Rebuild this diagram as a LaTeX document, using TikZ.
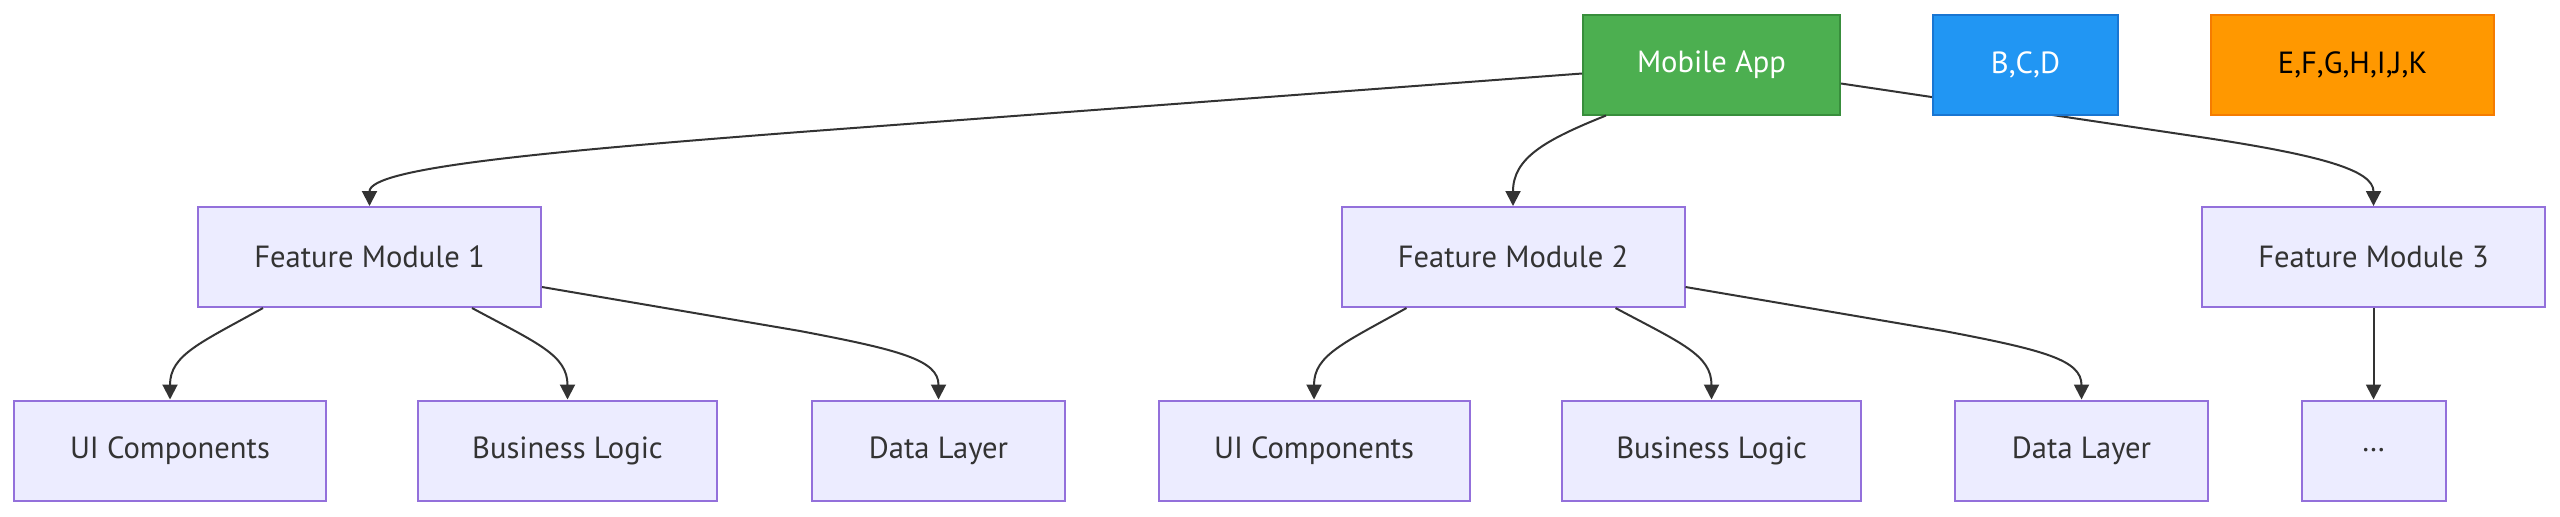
\documentclass[tikz,border=0pt]{standalone}
\usepackage{fontspec}
\setmainfont{PT Sans}
\usetikzlibrary{arrows.meta,calc}
\definecolor{lav}{HTML}{ECECFF}
\definecolor{lavline}{HTML}{9370DB}
\definecolor{txt}{HTML}{333333}
\definecolor{gfill}{HTML}{4CAF50}
\definecolor{gline}{HTML}{388E3C}
\definecolor{bfill}{HTML}{2196F3}
\definecolor{bline}{HTML}{1976D2}
\definecolor{ofill}{HTML}{FF9800}
\definecolor{oline}{HTML}{F57C00}
\tikzset{
  box/.style={draw=lavline, fill=lav, line width=1pt, text=txt, minimum height=50pt,
    inner sep=0pt, font=\fontsize{15.3pt}{18pt}\selectfont},
  greenbox/.style={box, draw=gline, fill=gfill, text=white},
  bluebox/.style={box, draw=bline, fill=bfill, text=white},
  orangebox/.style={box, draw=oline, fill=ofill, text=black},
  link/.style={draw=txt, line width=1pt, -{Triangle[length=7.5pt,width=7.5pt]}}
}
\begin{document}
\begin{tikzpicture}[x=0.5pt,y=-0.5pt]
\useasboundingbox[fill=white] (0,0) rectangle (2560,516);
% top row
\node[greenbox, minimum width=128.5pt] (ma) at (1711.5,64.5) {Mobile App};
\node[orangebox, minimum width=141.5pt] (efg) at (2352.5,64.5) {E,F,G,H,I,J,K};
% middle row
\node[box, minimum width=171.5pt] (fm1) at (369.5,257) {Feature Module 1};
\node[box, minimum width=171.5pt] (fm2) at (1513,257) {Feature Module 2};
\node[box, minimum width=171.5pt] (fm3) at (2373.5,257) {Feature Module 3};
% bottom row
\node[box, minimum width=156pt] (ui1) at (170,450.5) {UI Components};
\node[box, minimum width=149.5pt] (bl1) at (567.5,450.5) {Business Logic};
\node[box, minimum width=126.5pt] (dl1) at (938.5,450.5) {Data Layer};
\node[box, minimum width=155.5pt] (ui2) at (1314,450.5) {UI Components};
\node[box, minimum width=149.5pt] (bl2) at (1711.5,450.5) {Business Logic};
\node[box, minimum width=126.5pt] (dl2) at (2081.5,450.5) {Data Layer};
\node[box, minimum width=72pt] (dots) at (2373.5,450.5) {…};
% connectors from Mobile App
\draw[link] ($(ma.west)+(0,9)$) -- (800,132) .. controls (540,152) and (369.5,168) .. (fm1.north);
\draw[link] ($(ma.south west)+(24,0)$) .. controls (1545,140) and (1513,158) .. (fm2.north);
\draw[link] ($(ma.east)+(0,19)$) -- (2200,137) .. controls (2320,155) and (2373.5,170) .. (fm3.north);
% connectors from Feature Module 1
\draw[link] ($(fm1.south west)+(66,0)$) .. controls (200,343) and (170,355) .. (ui1.north);
\draw[link] ($(fm1.south west)+(275,0)$) .. controls (537,343) and (567.5,355) .. (bl1.north);
\draw[link] ($(fm1.east)+(0,30)$) -- (800,331) .. controls (900,350) and (938.5,360) .. (dl1.north);
% connectors from Feature Module 2
\draw[link] ($(fm2.south west)+(66,0)$) .. controls (1344,343) and (1314,355) .. (ui2.north);
\draw[link] ($(fm2.south west)+(275,0)$) .. controls (1681,343) and (1711.5,355) .. (bl2.north);
\draw[link] ($(fm2.east)+(0,30)$) -- (1944,331) .. controls (2044,350) and (2081.5,360) .. (dl2.north);
% connector from Feature Module 3
\draw[link] (fm3.south) -- (dots.north);
% drawn last: covers the Mobile App -> Feature Module 3 connector
\node[bluebox, minimum width=92.5pt] (bcd) at (2025.5,64.5) {B,C,D};
\end{tikzpicture}
\end{document}
